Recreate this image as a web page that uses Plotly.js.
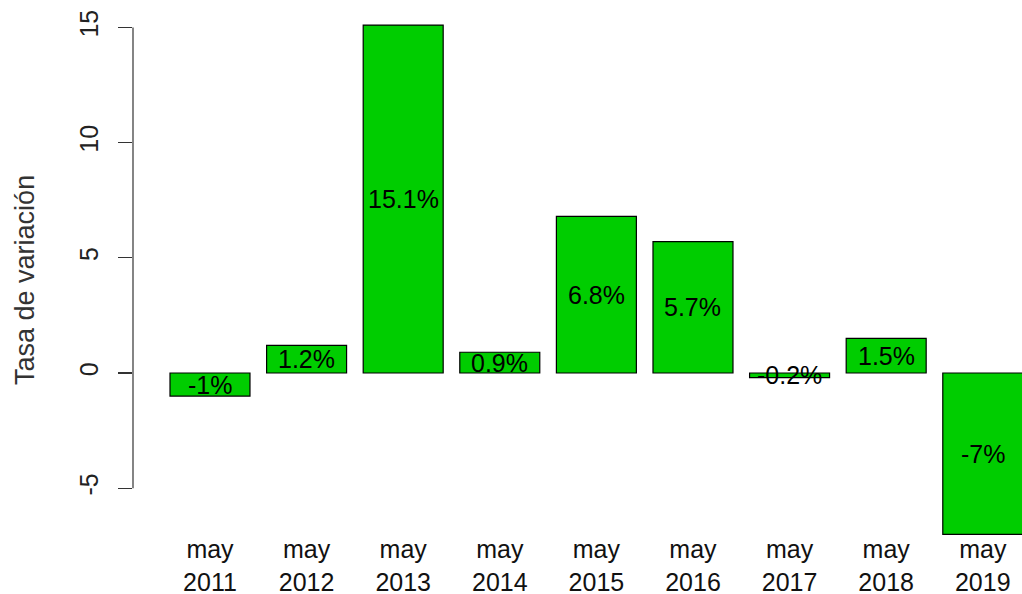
<!DOCTYPE html>
<html>
<head>
<meta charset="utf-8">
<script src="https://cdn.plot.ly/plotly-3.0.1.min.js"></script>
<style>html,body{margin:0;padding:0;background:#fff;}#chart{width:1022px;height:594px;}</style>
</head>
<body>
<div id="chart"></div>
<script>
var months = ["may", "may", "may", "may", "may", "may", "may", "may", "may"];
var years = ["2011", "2012", "2013", "2014", "2015", "2016", "2017", "2018", "2019"];
var values = [-1, 1.2, 15.1, 0.9, 6.8, 5.7, -0.2, 1.5, -7];
var labels = ["-1%", "1.2%", "15.1%", "0.9%", "6.8%", "5.7%", "-0.2%", "1.5%", "-7%"];
var yTicks = [-5, 0, 5, 10, 15];

var idx = values.map(function (v, i) { return i; });
var tickText = months.map(function (m, i) { return m + "<br>" + years[i]; });
var font = "Liberation Sans, Arial, sans-serif";

var bars = {
  type: "bar",
  x: idx,
  y: values,
  width: 0.828,
  marker: { color: "#00CD00", line: { color: "#000000", width: 1.2 } },
  hoverinfo: "skip"
};

var barLabels = values.map(function (v, i) {
  return {
    text: labels[i],
    xref: "x", yref: "y",
    x: idx[i], y: v / 2,
    xanchor: "center", yanchor: "middle",
    yshift: 0,
    showarrow: false,
    font: { family: font, size: 25, color: "#000000" }
  };
});

var layout = {
  width: 1022,
  height: 594,
  margin: { l: 133, r: 0, t: 10, b: 54, pad: 0 },
  paper_bgcolor: "#ffffff",
  plot_bgcolor: "#ffffff",
  showlegend: false,
  font: { family: font, size: 24, color: "#000000" },
  xaxis: {
    range: [-0.797, 8.406],
    tickmode: "array",
    tickvals: idx,
    ticktext: tickText,
    ticks: "",
    showgrid: false,
    zeroline: false,
    showline: false,
    automargin: false,
    tickfont: { family: font, size: 25, color: "#111111" },
    ticklabelstandoff: -8
  },
  yaxis: {
    range: [-7.248, 15.755],
    tickmode: "array",
    tickvals: yTicks,
    ticktext: yTicks.map(String),
    tickangle: -90,
    ticks: "outside",
    ticklen: 14,
    tickwidth: 1.2,
    tickcolor: "#333333",
    showgrid: false,
    zeroline: false,
    showline: false,
    automargin: false,
    tickfont: { family: font, size: 25, color: "#222222" },
    ticklabelstandoff: 10
  },
  shapes: [{
    type: "line",
    xref: "paper", yref: "y",
    x0: 0, x1: 0,
    y0: yTicks[0], y1: yTicks[yTicks.length - 1],
    line: { color: "#333333", width: 1.2 }
  }],
  annotations: barLabels.concat([{
    text: "Tasa de variación",
    xref: "paper", yref: "paper",
    x: -0.1215, y: 0.4906,
    xanchor: "center", yanchor: "middle",
    textangle: -90,
    showarrow: false,
    font: { family: font, size: 27, color: "#333333" }
  }])
};

Plotly.newPlot("chart", [bars], layout, { staticPlot: true, displayModeBar: false });
</script>
</body>
</html>
